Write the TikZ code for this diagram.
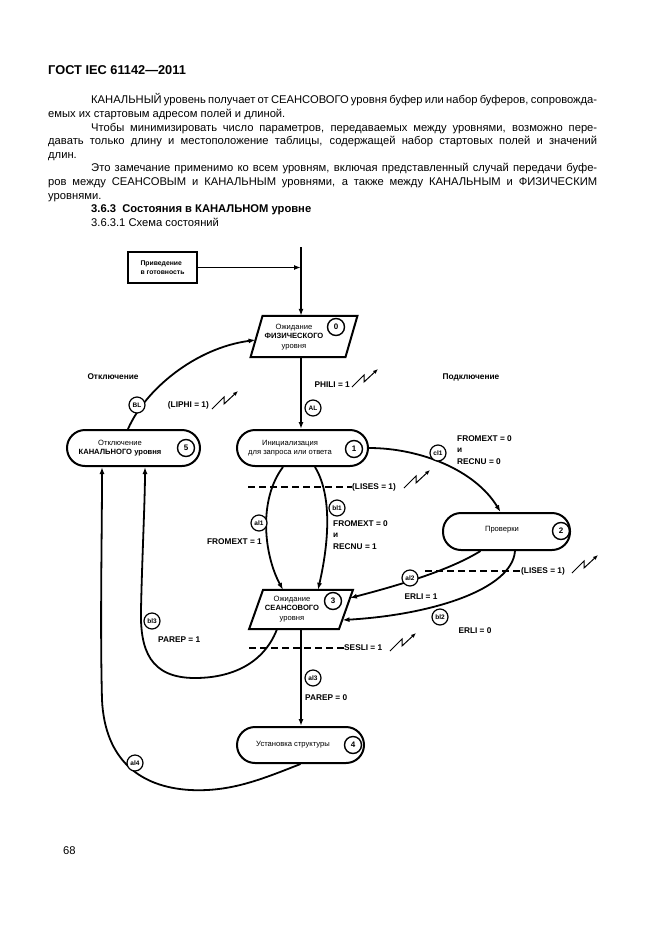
\documentclass[tikz,border=0pt]{standalone}
\usepackage{fontspec}
\setmainfont{Liberation Sans}
\usetikzlibrary{arrows.meta,calc}
\begin{document}
\begin{tikzpicture}[x=1pt,y=-1pt,
  every node/.style={inner sep=0pt},
  bodyline/.style={anchor=base west, font=\fontsize{11.2}{13}\selectfont},
  statebox/.style={draw, line width=2pt, rounded corners=18pt, minimum height=36pt},
  stext/.style={align=center, font=\fontsize{7.6}{9.5}\selectfont},
  num/.style={circle, draw, line width=1.4pt, minimum size=17pt, font=\bfseries\fontsize{8}{8}\selectfont},
  lab/.style={circle, draw, line width=1.2pt, minimum size=16pt, font=\bfseries\fontsize{6.5}{7}\selectfont},
  blab/.style={font=\bfseries\fontsize{8.3}{11.5}\selectfont},
  conn/.style={line width=1.8pt, -{Latex[length=7pt,width=5pt]}},
  thinconn/.style={line width=1.4pt, -{Latex[length=7pt,width=5pt]}},
  dashline/.style={line width=1.3pt, dash pattern=on 7pt off 4pt},
  zig/.pic={\draw[line width=1pt,-{Latex[length=5pt,width=4pt]}] (0,0) -- (12,-12) -- (12,-5) -- (26,-18);}
]
\useasboundingbox (0,0) rectangle (661,935);
\fill[white] (0,0) rectangle (661,935);

% header and text
\node[anchor=base west, font=\bfseries\fontsize{12.8}{14}\selectfont] (hdr) at (48,74.5) {ГОСТ IEC 61142—2011};
\node[bodyline] (l1) at (91,103.8) {\makebox[506pt][s]{КАНАЛЬНЫЙ уровень получает от СЕАНСОВОГО уровня буфер или набор буферов, сопровожда-}};
\node[bodyline] (l2) at (48,117.4) {емых их стартовым адресом полей и длиной.};
\node[bodyline] (l3) at (91,131) {\makebox[506pt][s]{Чтобы минимизировать число параметров, передаваемых между уровнями, возможно пере-}};
\node[bodyline] (l4) at (48,144.6) {\makebox[549pt][s]{давать только длину и местоположение таблицы, содержащей набор стартовых полей и значений}};
\node[bodyline] (l5) at (48,158.2) {длин.};
\node[bodyline] (l6) at (91,171.8) {\makebox[506pt][s]{Это замечание применимо ко всем уровням, включая представленный случай передачи буфе-}};
\node[bodyline] (l7) at (48,185.4) {\makebox[549pt][s]{ров между СЕАНСОВЫМ и КАНАЛЬНЫМ уровнями, а также между КАНАЛЬНЫМ и ФИЗИЧЕСКИМ}};
\node[bodyline] (l8) at (48,199) {уровнями.};
\node[bodyline, font=\bfseries\fontsize{11.2}{13}\selectfont] (l9) at (91,212.6) {3.6.3\ \ Состояния в КАНАЛЬНОМ уровне};
\node[bodyline] (l10) at (91,226.2) {3.6.3.1 Схема состояний};

% top box
\node[draw, line width=2pt, minimum width=69pt, minimum height=31pt, align=left,
      font=\bfseries\fontsize{6.8}{8.5}\selectfont] (b0) at (162.5,267.5) {Приведение\\в готовность};
\coordinate (top) at (301,247);

% state 0
\node[minimum width=94.5pt, minimum height=41pt] (s0) at (304,336.5) {};
\draw[line width=2pt] ($(s0.north west)+(6,0)$) -- ($(s0.north east)+(6,0)$) -- ($(s0.south east)+(-6,0)$) -- ($(s0.south west)+(-6,0)$) -- cycle;
\node[stext] (s0t) at (294,337) {Ожидание\\\textbf{ФИЗИЧЕСКОГО}\\уровня};
\node[num] (n0) at (336,327) {0};

% state 5
\node[statebox, minimum width=133pt] (s5) at (133.5,448) {};
\node[stext] (s5t) at (120,448) {Отключение\\\textbf{КАНАЛЬНОГО уровня}};
\node[num] (n5) at (186,448) {5};

% state 1
\node[statebox, minimum width=131pt] (s1) at (302.5,448) {};
\node[stext] (s1t) at (290,448) {Инициализация\\для запроса или ответа};
\node[num] (n1) at (354,449) {1};

% state 2
\node[statebox, minimum width=127pt, minimum height=37pt] (s2) at (506.5,531.5) {};
\node[stext] (s2t) at (502,530) {Проверки};
\node[num] (n2) at (561,531) {2};

% state 3
\node[minimum width=89.5pt, minimum height=39pt] (s3) at (301,609.5) {};
\draw[line width=2pt] ($(s3.north west)+(7,0)$) -- ($(s3.north east)+(7,0)$) -- ($(s3.south east)+(-7,0)$) -- ($(s3.south west)+(-7,0)$) -- cycle;
\node[stext] (s3t) at (292,609) {Ожидание\\\textbf{СЕАНСОВОГО}\\уровня};
\node[num] (n3) at (333,601) {3};

% state 4
\node[statebox, minimum width=127pt] (s4) at (300.5,745) {};
\node[stext] (s4t) at (293,745) {Установка структуры};
\node[num] (n4) at (353,745) {4};

% side titles
\node[blab] (off) at (113,377) {Отключение};
\node[blab] (on) at (471,377) {Подключение};

% connectors
\draw[thinconn] (top) -- (top |- s0.north);
\draw[thinconn] (b0.east) -- (b0.east -| top);
\draw[conn] (top |- s0.south) -- (top |- s1.north);
\node[blab, anchor=east] (phili) at (350,385) {PHILI = 1};
\pic at (352,387) {zig};
\node[lab] (AL) at (313,408) {AL};

\draw[conn] ($(s5.north)+(-5.5,0)$) .. controls (145,390) and (195,348) .. ($(s0.west)+(-1,3.5)$);
\node[lab, fill=white] (BL) at (137,405) {BL};
\node[blab, anchor=east] (liphi) at (209,405) {(LIPHI = 1)};
\pic at (212,409) {zig};

\draw[conn] (s1.east) .. controls (420,448) and (475,470) .. ($(s2.north)+(-6,0)$);
\node[lab, fill=white] (cl1) at (438,453) {cl1};
\node[blab, anchor=north west, align=left] (fe0a) at (457,435) {FROMEXT = 0\\и\\RECNU = 0};

\coordinate (d1) at (248,487);
\node[blab, anchor=west] (lises1) at (352,487) {(LISES = 1)};
\draw[dashline] (d1) -- (lises1.west);
\pic at (404,488) {zig};

\draw[conn] ($(s1.south)+(-19.5,0)$) .. controls (258,500) and (264,555) .. ($(s3.north)+(-18,0)$);
\draw[conn] ($(s1.south)+(12.5,0)$) .. controls (335,500) and (326,555) .. ($(s3.north)+(17,0)$);
\node[lab, fill=white] (al1) at (259,523) {al1};
\node[lab, fill=white] (bl1) at (337,508) {bl1};
\node[blab, anchor=east] (fe1) at (262,542) {FROMEXT = 1};
\node[blab, anchor=north west, align=left] (fe0b) at (333,520) {FROMEXT = 0\\и\\RECNU = 1};

\draw[conn] ($(s2.south)+(-26,0)$) .. controls (450,570) and (400,585) .. ($(s3.east)+(4,-11.5)$);
\node[lab, fill=white] (al2) at (410,578) {al2};
\node[blab] (erli1) at (421,597) {ERLI = 1};

\draw[conn] ($(s2.south)+(8.5,0)$) .. controls (512,590) and (430,615) .. ($(s3.east)+(-3.5,10.5)$);
\node[lab, fill=white] (bl2) at (440,617) {bl2};
\node[blab] (erli0) at (475,631) {ERLI = 0};

\coordinate (d2) at (425,571);
\node[blab, anchor=west] (lises2) at (521,571) {(LISES = 1)};
\draw[dashline] (d2) -- (lises2.west);
\pic at (572,573) {zig};

\draw[conn] ($(s3.south)+(-24,0)$) .. controls (262,668) and (225,678) .. (195,678) .. controls (150,678) and (140,650) .. (141,610) .. controls (142,560) and (145,500) .. ($(s5.south)+(11.5,0)$);
\node[lab, fill=white] (bl3) at (152,621) {bl3};
\node[blab, anchor=west] (parep1) at (158,640) {PAREP = 1};

\coordinate (d3) at (249,648);
\node[blab, anchor=west] (sesli) at (344,648) {SESLI = 1};
\draw[dashline] (d3) -- (sesli.west);
\pic at (390,651) {zig};

\draw[conn] (top |- s3.south) -- (top |- s4.north);
\node[lab] (al3) at (313,678) {al3};
\node[blab, anchor=west] (parep0) at (305,698) {PAREP = 0};

\draw[conn] (s4.south) .. controls (260,780) and (230,792) .. (190,790) .. controls (140,787) and (105,760) .. (102,700) .. controls (100,620) and (102,540) .. ($(s5.south)+(-31.5,0)$);
\node[lab, fill=white] (al4) at (135,763) {al4};

\node[anchor=base west, font=\fontsize{11.2}{13}\selectfont] (pg) at (63,854) {68};
\end{tikzpicture}
\end{document}
